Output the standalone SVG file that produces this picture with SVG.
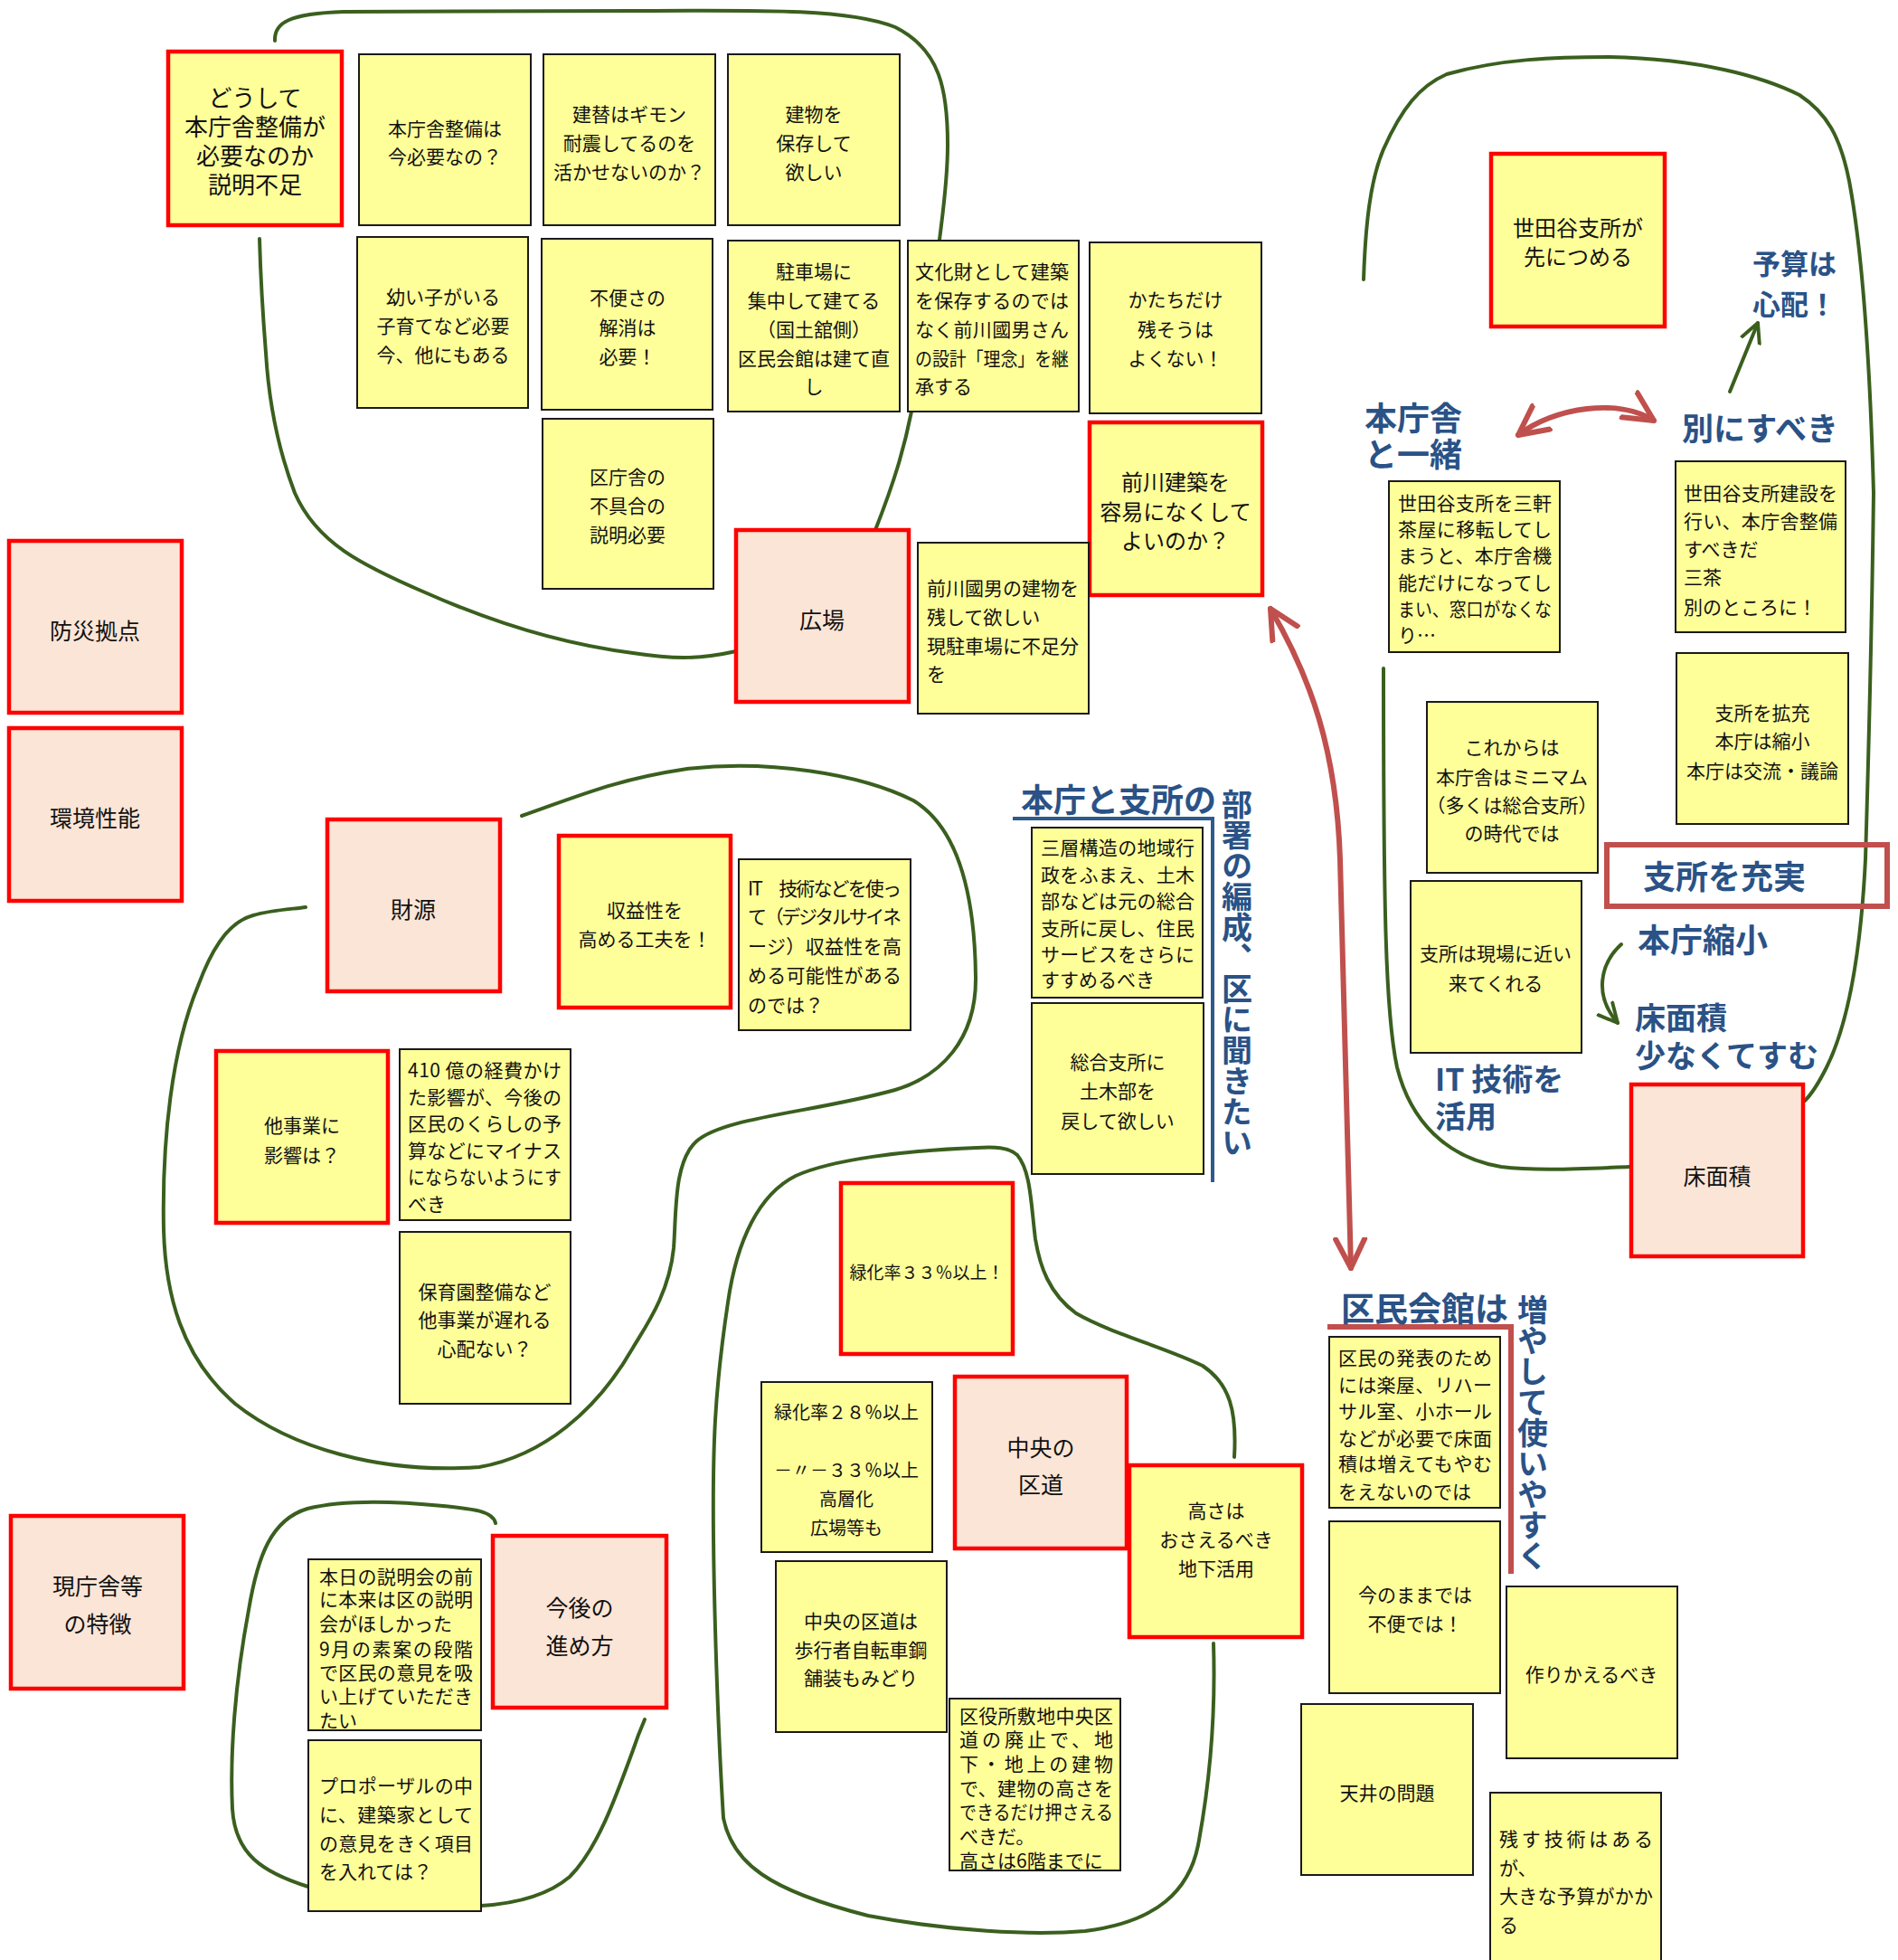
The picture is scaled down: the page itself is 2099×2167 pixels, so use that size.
<svg xmlns="http://www.w3.org/2000/svg" width="2099" height="2167" viewBox="0 0 2099 2167">
<style>
.s rect{fill:#ffff99;stroke:#1a1a1a;stroke-width:2}
.r rect{fill:#ffff99;stroke:#ff0000;stroke-width:4.5}
.p rect{fill:#fbe5d6;stroke:#ff0000;stroke-width:4.5}
text{font-family:"Noto Sans CJK JP","Noto Sans",sans-serif;font-size:21px;fill:#111;dominant-baseline:central}
.c{text-anchor:middle}
.big{font-size:25px}
.bl{font-weight:bold;fill:#2a5286}
.v{writing-mode:vertical-rl}
.g{fill:none;stroke:#3a5f1e;stroke-width:4;stroke-linecap:round}
.ra{fill:none;stroke:#c0504d;stroke-width:6;stroke-linecap:round}
</style>
<defs>
<marker id="mr" viewBox="0 0 20 20" refX="17" refY="10" markerWidth="40" markerHeight="40" markerUnits="userSpaceOnUse" orient="auto-start-reverse">
<path d="M1,2 L17,10 L1,18" fill="none" stroke="#c0504d" stroke-width="3" stroke-linecap="round" stroke-linejoin="round"/>
</marker>
<marker id="mg" viewBox="0 0 20 20" refX="17" refY="10" markerWidth="26" markerHeight="26" markerUnits="userSpaceOnUse" orient="auto-start-reverse">
<path d="M1,2 L17,10 L1,18" fill="none" stroke="#3a5f1e" stroke-width="3" stroke-linecap="round" stroke-linejoin="round"/>
</marker>
</defs>
<rect width="2099" height="2167" fill="#ffffff"/>

<g id="connectors">
<!-- group outlines -->
<path class="g" d="M304,45 C303,25 320,15 380,13 L700,12 C850,11 940,10 990,30 C1040,55 1048,100 1048,160 C1048,200 1042,240 1039,265"/>
<path class="g" d="M1008,455 C1000,495 990,530 968,586"/>
<path class="g" d="M814,720 C770,730 740,728 700,722 C620,712 540,686 470,655 C400,625 350,600 326,545 C305,490 297,440 294,390 C290,340 288,300 287,264"/>
<path class="g" d="M577,902 C640,880 680,862 760,850 C850,840 950,855 1010,885 C1060,915 1078,990 1079,1080 C1080,1150 1040,1190 990,1205 C900,1230 800,1235 770,1262 C745,1285 748,1340 745,1380 C740,1430 715,1465 700,1490 C660,1560 600,1610 530,1622 C420,1630 320,1600 260,1552 C200,1500 183,1430 181,1360 C179,1260 190,1160 219,1090 C232,1055 250,1020 280,1012 C300,1006 325,1005 338,1003"/>
<path class="g" d="M1365,1611 C1368,1560 1360,1530 1330,1510 C1290,1490 1230,1475 1190,1452 C1160,1430 1150,1400 1145,1370 C1140,1330 1140,1295 1125,1277 C1115,1268 1100,1268 1080,1269 C1000,1272 920,1282 880,1300 C840,1320 815,1370 805,1440 C790,1540 788,1600 789,1700 C790,1800 795,1930 800,2010 C810,2060 850,2090 960,2118 C1050,2135 1140,2140 1200,2135 C1280,2125 1315,2090 1325,2040 C1340,1960 1344,1880 1342,1817"/>
<path class="g" d="M548,1684 C545,1670 520,1668 490,1665 C440,1660 380,1658 340,1668 C300,1680 285,1720 275,1780 C260,1860 254,1940 257,2000 C260,2050 290,2070 341,2086"/>
<path class="g" d="M532,2107 C580,2104 610,2092 630,2075 C660,2045 680,1990 700,1935 C705,1920 710,1908 713,1901"/>
<path class="g" d="M1508,309 C1510,250 1515,200 1530,165 C1550,120 1570,95 1600,82 C1660,65 1720,63 1780,63 C1880,65 1950,85 1990,105 C2020,125 2035,150 2045,200 C2060,280 2068,400 2072,545 C2070,700 2066,850 2063,950 C2058,1050 2045,1130 2020,1180 C2010,1200 2003,1210 1996,1217"/>
<path class="g" d="M1802,1290 C1750,1292 1700,1295 1660,1290 C1600,1280 1560,1240 1545,1180 C1532,1120 1530,1000 1530,739"/>
<!-- green arrows -->
<path class="g" d="M1913,433 L1944,357" marker-end="url(#mg)"/>
<path class="g" d="M1793,1044 C1770,1065 1762,1100 1789,1131" marker-end="url(#mg)"/>
<!-- red arrows -->
<path class="ra" d="M1679,481 C1720,450 1790,440 1829,465" marker-start="url(#mr)" marker-end="url(#mr)"/>
<path class="ra" d="M1405,673 C1450,750 1478,830 1482,950 L1494,1402" marker-start="url(#mr)" marker-end="url(#mr)"/>
<!-- bracket lines -->
<path d="M1120,905 L1341,905 L1341,1307" fill="none" stroke="#2f5a8c" stroke-width="4"/>
<path d="M1468,1467 L1671,1467 L1671,1740" fill="none" stroke="#c0504d" stroke-width="6"/>
<rect x="1777" y="934" width="310" height="68" fill="none" stroke="#c0504d" stroke-width="6"/>
</g>

<g id="labels">
<text class="bl" x="1938" y="289" style="font-size:31px">予算は</text>
<text class="bl" x="1938" y="334" style="font-size:31px">心配！</text>
<text class="bl" x="1509" y="460" style="font-size:36px">本庁舎</text>
<text class="bl" x="1509" y="500" style="font-size:36px">と一緒</text>
<text class="bl" x="1860" y="471" style="font-size:35px">別にすべき</text>
<text class="bl" x="1129" y="882" style="font-size:36px">本庁と支所の</text>
<text class="bl v" x="1368" y="872" style="font-size:34px">部署の編成、区に聞きたい</text>
<text class="bl" x="1817" y="967" style="font-size:36px">支所を充実</text>
<text class="bl" x="1811" y="1037" style="font-size:36px">本庁縮小</text>
<text class="bl" x="1808" y="1123" style="font-size:34px">床面積</text>
<text class="bl" x="1808" y="1165" style="font-size:34px">少なくてすむ</text>
<text class="bl" x="1587" y="1191" style="font-size:34px">IT 技術を</text>
<text class="bl" x="1587" y="1232" style="font-size:34px">活用</text>
<text class="bl" x="1483" y="1445" style="font-size:37px">区民会館は</text>
<text class="bl v" x="1695" y="1431" style="font-size:34px">増やして使いやすく</text>
</g>

<g id="n1" class="r"><rect x="186" y="57" width="192" height="192"/>
<text class="c" style="font-size:26px"><tspan x="282" y="106">どうして</tspan><tspan x="282" y="138">本庁舎整備が</tspan><tspan x="282" y="170">必要なのか</tspan><tspan x="282" y="202">説明不足</tspan></text></g>
<g id="n2" class="s"><rect x="397" y="60" width="190" height="189"/>
<text class="c"><tspan x="492" y="141">本庁舎整備は</tspan><tspan x="492" y="172">今必要なの？</tspan></text></g>
<g id="n3" class="s"><rect x="601" y="60" width="190" height="189"/>
<text class="c"><tspan x="696" y="125">建替はギモン</tspan><tspan x="696" y="157">耐震してるのを</tspan><tspan x="696" y="189">活かせないのか？</tspan></text></g>
<g id="n4" class="s"><rect x="805" y="60" width="190" height="189"/>
<text class="c"><tspan x="900" y="125">建物を</tspan><tspan x="900" y="157">保存して</tspan><tspan x="900" y="189">欲しい</tspan></text></g>
<g id="n5" class="s"><rect x="395" y="262" width="189" height="189"/>
<text class="c"><tspan x="490" y="327">幼い子がいる</tspan><tspan x="490" y="359">子育てなど必要</tspan><tspan x="490" y="391">今、他にもある</tspan></text></g>
<g id="n6" class="s"><rect x="599" y="264" width="189" height="189"/>
<text class="c"><tspan x="694" y="328">不便さの</tspan><tspan x="694" y="361">解消は</tspan><tspan x="694" y="393">必要！</tspan></text></g>
<g id="n7" class="s"><rect x="600" y="463" width="189" height="188"/>
<text class="c"><tspan x="694" y="526">区庁舎の</tspan><tspan x="694" y="558">不具合の</tspan><tspan x="694" y="590">説明必要</tspan></text></g>
<g id="n8" class="s"><rect x="805" y="266" width="190" height="189"/>
<text class="c"><tspan x="900" y="299">駐車場に</tspan><tspan x="900" y="331">集中して建てる</tspan><tspan x="900" y="363">（国土舘側）</tspan><tspan x="900" y="395">区民会館は建て直</tspan><tspan x="900" y="426">し</tspan></text></g>
<g id="n9" class="s"><rect x="1004" y="266" width="189" height="189"/>
<text><tspan x="1012" y="299" textLength="170" lengthAdjust="spacing">文化財として建築</tspan><tspan x="1012" y="331" textLength="170" lengthAdjust="spacing">を保存するのでは</tspan><tspan x="1012" y="363" textLength="170" lengthAdjust="spacing">なく前川國男さん</tspan><tspan x="1012" y="395" textLength="170" lengthAdjust="spacingAndGlyphs">の設計「理念」を継</tspan><tspan x="1012" y="426">承する</tspan></text></g>
<g id="n10" class="s"><rect x="1205" y="268" width="190" height="189"/>
<text class="c"><tspan x="1300" y="330">かたちだけ</tspan><tspan x="1300" y="363">残そうは</tspan><tspan x="1300" y="395">よくない！</tspan></text></g>
<g id="n11" class="r"><rect x="1205" y="467" width="191" height="191"/>
<text class="c" style="font-size:24px"><tspan x="1300" y="531">前川建築を</tspan><tspan x="1300" y="564">容易になくして</tspan><tspan x="1300" y="596">よいのか？</tspan></text></g>
<g id="n12" class="p"><rect x="814" y="586" width="191" height="190"/>
<text class="c big" x="909" y="684">広場</text></g>
<g id="n13" class="s"><rect x="1015" y="600" width="189" height="189"/>
<text><tspan x="1025" y="649">前川國男の建物を</tspan><tspan x="1025" y="681">残して欲しい</tspan><tspan x="1025" y="713">現駐車場に不足分</tspan><tspan x="1025" y="744">を</tspan></text></g>
<g id="n14" class="p"><rect x="10" y="598" width="191" height="190"/>
<text class="c big" x="105" y="696">防災拠点</text></g>
<g id="n15" class="p"><rect x="10" y="805" width="191" height="191"/>
<text class="c big" x="105" y="903">環境性能</text></g>
<g id="n16" class="p"><rect x="362" y="906" width="191" height="190"/>
<text class="c big" x="457" y="1004">財源</text></g>
<g id="n17" class="r"><rect x="618" y="924" width="190" height="190"/>
<text class="c"><tspan x="713" y="1005">収益性を</tspan><tspan x="713" y="1037">高める工夫を！</tspan></text></g>
<g id="n18" class="s"><rect x="817" y="950" width="190" height="189"/>
<text><tspan x="827" y="981" textLength="170" lengthAdjust="spacing">IT　技術などを使っ</tspan><tspan x="827" y="1012" textLength="170" lengthAdjust="spacing">て（デジタルサイネ</tspan><tspan x="827" y="1045" textLength="170" lengthAdjust="spacing">ージ）収益性を高</tspan><tspan x="827" y="1077" textLength="170" lengthAdjust="spacing">める可能性がある</tspan><tspan x="827" y="1110">のでは？</tspan></text></g>
<g id="n19" class="r"><rect x="239" y="1162" width="190" height="190"/>
<text class="c"><tspan x="334" y="1243">他事業に</tspan><tspan x="334" y="1276">影響は？</tspan></text></g>
<g id="n20" class="s"><rect x="442" y="1160" width="189" height="189"/>
<text><tspan x="451" y="1182" textLength="170" lengthAdjust="spacing">410 億の経費かけ</tspan><tspan x="451" y="1212" textLength="170" lengthAdjust="spacing">た影響が、今後の</tspan><tspan x="451" y="1241" textLength="170" lengthAdjust="spacing">区民のくらしの予</tspan><tspan x="451" y="1271" textLength="170" lengthAdjust="spacing">算などにマイナス</tspan><tspan x="451" y="1300" textLength="170" lengthAdjust="spacingAndGlyphs">にならないようにす</tspan><tspan x="451" y="1330">べき</tspan></text></g>
<g id="n21" class="s"><rect x="442" y="1362" width="189" height="190"/>
<text class="c"><tspan x="536" y="1427">保育園整備など</tspan><tspan x="536" y="1458">他事業が遅れる</tspan><tspan x="536" y="1490">心配ない？</tspan></text></g>
<g id="n22" class="r"><rect x="1649" y="170" width="192" height="191"/>
<text class="c" style="font-size:24px"><tspan x="1745" y="250">世田谷支所が</tspan><tspan x="1745" y="282">先につめる</tspan></text></g>
<g id="n23" class="s"><rect x="1536" y="532" width="189" height="189"/>
<text><tspan x="1546" y="555" textLength="170" lengthAdjust="spacing">世田谷支所を三軒</tspan><tspan x="1546" y="584" textLength="170" lengthAdjust="spacing">茶屋に移転してし</tspan><tspan x="1546" y="613" textLength="170" lengthAdjust="spacing">まうと、本庁舎機</tspan><tspan x="1546" y="643" textLength="170" lengthAdjust="spacing">能だけになってし</tspan><tspan x="1546" y="672" textLength="170" lengthAdjust="spacingAndGlyphs">まい、窓口がなくな</tspan><tspan x="1546" y="701">り…</tspan></text></g>
<g id="n24" class="s"><rect x="1853" y="510" width="188" height="189"/>
<text><tspan x="1862" y="544" textLength="170" lengthAdjust="spacing">世田谷支所建設を</tspan><tspan x="1862" y="575" textLength="170" lengthAdjust="spacing">行い、本庁舎整備</tspan><tspan x="1862" y="606">すべきだ</tspan><tspan x="1862" y="637">三茶</tspan><tspan x="1862" y="670">別のところに！</tspan></text></g>
<g id="n25" class="s"><rect x="1854" y="722" width="190" height="189"/>
<text class="c"><tspan x="1949" y="787">支所を拡充</tspan><tspan x="1949" y="818">本庁は縮小</tspan><tspan x="1949" y="851">本庁は交流・議論</tspan></text></g>
<g id="n26" class="s"><rect x="1578" y="776" width="189" height="189"/>
<text class="c"><tspan x="1672" y="825">これからは</tspan><tspan x="1672" y="858">本庁舎はミニマム</tspan><tspan x="1672" y="889">（多くは総合支所）</tspan><tspan x="1672" y="920">の時代では</tspan></text></g>
<g id="n27" class="s"><rect x="1560" y="974" width="189" height="190"/>
<text class="c"><tspan x="1654" y="1053">支所は現場に近い</tspan><tspan x="1654" y="1086">来てくれる</tspan></text></g>
<g id="n28" class="p"><rect x="1804" y="1199" width="190" height="190"/>
<text class="c big" x="1899" y="1299">床面積</text></g>
<g id="n29" class="s"><rect x="1141" y="915" width="189" height="188"/>
<text><tspan x="1151" y="936" textLength="170" lengthAdjust="spacing">三層構造の地域行</tspan><tspan x="1151" y="966" textLength="170" lengthAdjust="spacing">政をふまえ、土木</tspan><tspan x="1151" y="995" textLength="170" lengthAdjust="spacing">部などは元の総合</tspan><tspan x="1151" y="1025" textLength="170" lengthAdjust="spacing">支所に戻し、住民</tspan><tspan x="1151" y="1054" textLength="170" lengthAdjust="spacing">サービスをさらに</tspan><tspan x="1151" y="1082">すすめるべき</tspan></text></g>
<g id="n30" class="s"><rect x="1141" y="1109" width="190" height="189"/>
<text class="c"><tspan x="1236" y="1173">総合支所に</tspan><tspan x="1236" y="1205">土木部を</tspan><tspan x="1236" y="1238">戻して欲しい</tspan></text></g>
<g id="n31" class="r"><rect x="930" y="1308" width="190" height="189"/>
<text class="c" x="1025" y="1405" style="font-size:19px">緑化率３３％以上！</text></g>
<g id="n32" class="s"><rect x="842" y="1528" width="189" height="188"/>
<text class="c" style="font-size:20px"><tspan x="936" y="1560">緑化率２８％以上</tspan><tspan x="936" y="1624">－〃－３３％以上</tspan><tspan x="936" y="1656">高層化</tspan><tspan x="936" y="1688">広場等も</tspan></text></g>
<g id="n33" class="p"><rect x="1056" y="1522" width="190" height="190"/>
<text class="c big"><tspan x="1151" y="1599">中央の</tspan><tspan x="1151" y="1640">区道</tspan></text></g>
<g id="n34" class="r"><rect x="1249" y="1620" width="191" height="190"/>
<text class="c"><tspan x="1345" y="1669">高さは</tspan><tspan x="1345" y="1701">おさえるべき</tspan><tspan x="1345" y="1733">地下活用</tspan></text></g>
<g id="n35" class="s"><rect x="858" y="1726" width="189" height="189"/>
<text class="c"><tspan x="952" y="1791">中央の区道は</tspan><tspan x="952" y="1823">歩行者自転車鋼</tspan><tspan x="952" y="1854">舗装もみどり</tspan></text></g>
<g id="n36" class="s"><rect x="1050" y="1878" width="189" height="190"/>
<text><tspan x="1061" y="1896" textLength="170" lengthAdjust="spacing">区役所敷地中央区</tspan><tspan x="1061" y="1922" textLength="170" lengthAdjust="spacing">道の廃止で、地</tspan><tspan x="1061" y="1949" textLength="170" lengthAdjust="spacing">下・地上の建物</tspan><tspan x="1061" y="1976" textLength="170" lengthAdjust="spacing">で、建物の高さを</tspan><tspan x="1061" y="2002" textLength="170" lengthAdjust="spacingAndGlyphs">できるだけ押さえる</tspan><tspan x="1061" y="2029">べきだ。</tspan><tspan x="1061" y="2056">高さは6階までに</tspan></text></g>
<g id="n37" class="p"><rect x="12" y="1676" width="191" height="191"/>
<text class="c big"><tspan x="108" y="1752">現庁舎等</tspan><tspan x="108" y="1794">の特徴</tspan></text></g>
<g id="n38" class="s"><rect x="341" y="1724" width="191" height="189"/>
<text><tspan x="353" y="1742" textLength="170" lengthAdjust="spacing">本日の説明会の前</tspan><tspan x="353" y="1767" textLength="170" lengthAdjust="spacing">に本来は区の説明</tspan><tspan x="353" y="1794">会がほしかった</tspan><tspan x="353" y="1822" textLength="170" lengthAdjust="spacing">9月の素案の段階</tspan><tspan x="353" y="1848" textLength="170" lengthAdjust="spacing">で区民の意見を吸</tspan><tspan x="353" y="1874" textLength="170" lengthAdjust="spacing">い上げていただき</tspan><tspan x="353" y="1901">たい</tspan></text></g>
<g id="n39" class="s"><rect x="341" y="1924" width="191" height="189"/>
<text><tspan x="353" y="1973" textLength="170" lengthAdjust="spacing">プロポーザルの中</tspan><tspan x="353" y="2005" textLength="170" lengthAdjust="spacing">に、建築家として</tspan><tspan x="353" y="2037" textLength="170" lengthAdjust="spacing">の意見をきく項目</tspan><tspan x="353" y="2068">を入れては？</tspan></text></g>
<g id="n40" class="p"><rect x="545" y="1698" width="192" height="190"/>
<text class="c big"><tspan x="641" y="1776">今後の</tspan><tspan x="641" y="1818">進め方</tspan></text></g>
<g id="n41" class="s"><rect x="1470" y="1478" width="189" height="189"/>
<text><tspan x="1480" y="1500" textLength="170" lengthAdjust="spacing">区民の発表のため</tspan><tspan x="1480" y="1530" textLength="170" lengthAdjust="spacing">には楽屋、リハー</tspan><tspan x="1480" y="1559" textLength="170" lengthAdjust="spacing">サル室、小ホール</tspan><tspan x="1480" y="1589" textLength="170" lengthAdjust="spacing">などが必要で床面</tspan><tspan x="1480" y="1617" textLength="170" lengthAdjust="spacing">積は増えてもやむ</tspan><tspan x="1480" y="1648">をえないのでは</tspan></text></g>
<g id="n42" class="s"><rect x="1470" y="1682" width="189" height="190"/>
<text class="c"><tspan x="1565" y="1762">今のままでは</tspan><tspan x="1565" y="1794">不便では！</tspan></text></g>
<g id="n43" class="s"><rect x="1666" y="1754" width="189" height="190"/>
<text class="c" x="1760" y="1850">作りかえるべき</text></g>
<g id="n44" class="s"><rect x="1439" y="1884" width="190" height="189"/>
<text class="c" x="1534" y="1981">天井の問題</text></g>
<g id="n45" class="s"><rect x="1648" y="1982" width="189" height="200"/>
<text><tspan x="1658" y="2032" textLength="170" lengthAdjust="spacing">残す技術はある</tspan><tspan x="1658" y="2064">が、</tspan><tspan x="1658" y="2095" textLength="170" lengthAdjust="spacing">大きな予算がかか</tspan><tspan x="1658" y="2127">る</tspan></text></g>
</svg>
